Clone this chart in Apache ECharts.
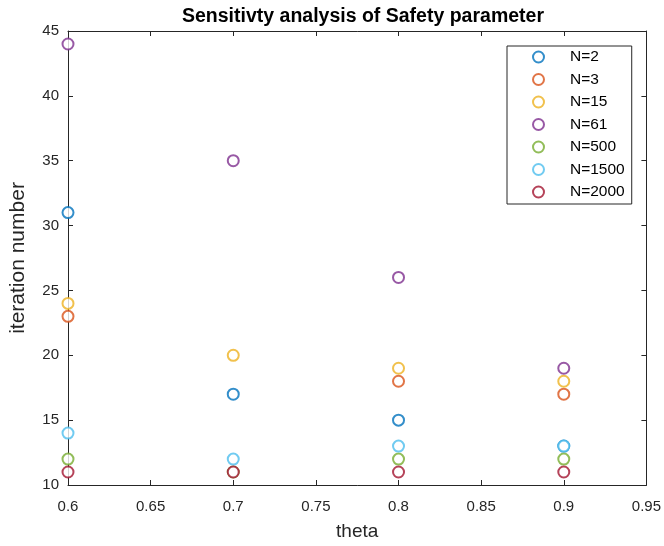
<!DOCTYPE html>
<html>
<head>
<meta charset="utf-8">
<script src="https://cdn.jsdelivr.net/npm/echarts@6/dist/echarts.min.js"></script>
<style>html,body{margin:0;padding:0;background:#fff}#c{width:664px;height:546px}</style>
</head>
<body>
<div id="c"></div>
<script>
const thetas = [0.6, 0.7, 0.8, 0.9];
const seriesNames = ['N=2', 'N=3', 'N=15', 'N=61', 'N=500', 'N=1500', 'N=2000'];
const n2 = [31, 17, 15, 13];
const n3 = [23, null, 18, 17];
const n15 = [24, 20, 19, 18];
const n61 = [44, 35, 26, 19];
const n500 = [12, 11, 12, 12];
const n1500 = [14, 12, 13, 13];
const n2000 = [11, 11, 11, 11];
const allValues = [n2, n3, n15, n61, n500, n1500, n2000];
const colors = ['#0072BD', '#D95319', '#EDB120', '#7E2F8E', '#77AC30', '#4DBEEE', '#A2142F'];
const xTicks = [0.6, 0.65, 0.7, 0.75, 0.8, 0.85, 0.9, 0.95];
const yTicks = [10, 15, 20, 25, 30, 35, 40, 45];

const font = 'Liberation Sans, Arial, Helvetica, sans-serif';
const axisColor = '#262626';

const chart = echarts.init(document.getElementById('c'), null, {renderer: 'canvas'});
const series = seriesNames.map((name, i) => ({
  name: name,
  type: 'scatter',
  symbol: 'emptyCircle',
  symbolSize: 11,
  clip: false,
  itemStyle: {color: colors[i], borderColor: colors[i], borderWidth: 0.9},
  data: thetas.map((t, j) => allValues[i][j] == null ? null : [t, allValues[i][j]]).filter(d => d)
}));

const baseAxis = {
  axisLine: {show: true, onZero: false, lineStyle: {color: axisColor, width: 1}},
  axisTick: {show: true, inside: true, length: 5, lineStyle: {color: axisColor}},
  splitLine: {show: false}
};

chart.setOption({
  backgroundColor: '#fff',
  animation: false,
  color: colors,
  title: {
    text: 'Sensitivty analysis of Safety parameter',
    left: 358, textAlign: 'center', top: 2,
    textStyle: {fontFamily: font, fontSize: 19.5, fontWeight: 'bold', color: '#000'}
  },
  legend: {
    orient: 'vertical',
    left: 507, top: 46,
    padding: [3, 7, 4, 25],
    itemWidth: 11, itemHeight: 11, itemGap: 6.5,
    backgroundColor: '#fff',
    borderColor: axisColor, borderWidth: 1, borderRadius: 0,
    textStyle: {fontFamily: font, fontSize: 15.5, lineHeight: 16, color: '#000', padding: [0, 0, 0, 21]},
    data: seriesNames
  },
  grid: {left: 67, right: 14, top: 31, bottom: 58, show: false},
  xAxis: [
    Object.assign({}, baseAxis, {
      type: 'value', min: 0.6, max: 0.95, interval: 0.05, position: 'bottom',
      name: 'theta', nameLocation: 'middle', nameGap: 37,
      nameTextStyle: {fontFamily: font, fontSize: 19, color: axisColor},
      axisLabel: {fontFamily: font, fontSize: 15, color: axisColor, margin: 14,
        formatter: v => { const r = Math.round(v * 100) / 100; return xTicks.includes(r) ? String(r) : ''; }}
    }),
    Object.assign({}, baseAxis, {
      type: 'value', min: 0.6, max: 0.95, interval: 0.05, position: 'top',
      axisLabel: {show: false}
    })
  ],
  yAxis: [
    Object.assign({}, baseAxis, {
      type: 'value', min: 10, max: 45, interval: 5, position: 'left',
      name: 'iteration number', nameLocation: 'middle', nameGap: 39,
      nameTextStyle: {fontFamily: font, fontSize: 21, color: axisColor},
      axisLabel: {fontFamily: font, fontSize: 15, color: axisColor, margin: 9,
        formatter: v => yTicks.includes(v) ? String(v) : ''}
    }),
    Object.assign({}, baseAxis, {
      type: 'value', min: 10, max: 45, interval: 5, position: 'right',
      axisLabel: {show: false}
    })
  ],
  series: series
});
</script>
</body>
</html>
